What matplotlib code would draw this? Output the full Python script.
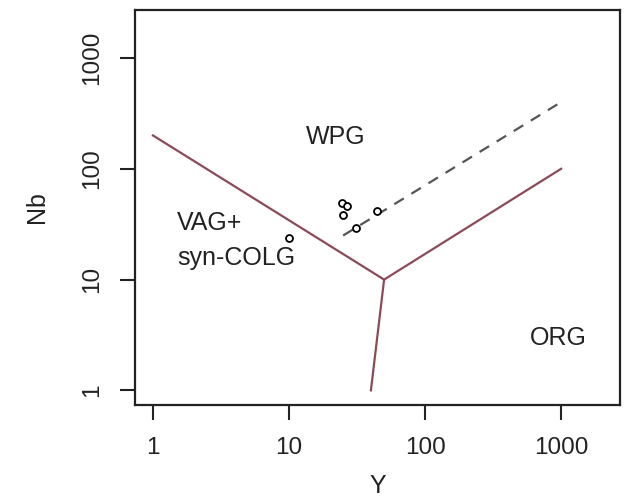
import matplotlib.pyplot as plt

plt.rcParams['font.family'] = ['Liberation Sans', 'DejaVu Sans']

# sample data
y_vals = [24.7, 26.9, 25.1, 31.3, 44.0, 10.0]
nb_vals = [49.4, 46.4, 38.5, 29.4, 41.8, 23.9]

# field boundaries (Pearce et al. 1984)
wpg_vag_y = [1, 50]
wpg_vag_nb = [200, 10]
org_y = [50, 1000]
org_nb = [10, 100]
vag_org_y = [50, 40]
vag_org_nb = [10, 1]
dash_y = [25, 1000]
dash_nb = [25, 400]

ticks = [1, 10, 100, 1000]
tick_labels = ["1", "10", "100", "1000"]

fig = plt.figure(figsize=(6.38, 5.01), dpi=100)
ax = fig.add_axes([0.2116, 0.1916, 0.7602, 0.7884])

line_col = "#8c4a58"
ax.plot(wpg_vag_y, wpg_vag_nb, color=line_col, lw=1.6)
ax.plot(org_y, org_nb, color=line_col, lw=1.6)
ax.plot(vag_org_y, vag_org_nb, color=line_col, lw=1.6)
ax.plot(dash_y, dash_nb, color="#555555", lw=1.6, ls=(0, (5, 4)))

ax.plot(y_vals, nb_vals, ls="none", marker="o", ms=5, mfc="white",
        mec="black", mew=1.3)

txt = dict(fontsize=18, color="#222222")
ax.text(21.9, 194, "WPG", ha="center", va="center", **txt)
ax.text(1.5, 28.2, "VAG+", ha="left", va="baseline", **txt)
ax.text(1.5, 13.65, "syn-COLG", ha="left", va="baseline", **txt)
ax.text(949, 2.94, "ORG", ha="center", va="center", **txt)

ax.set_xscale("log")
ax.set_yscale("log")
ax.set_xlim(10 ** -0.132, 10 ** 3.433)
ax.set_ylim(10 ** -0.132, 10 ** 3.433)
ax.set_xticks(ticks)
ax.set_xticklabels(tick_labels)
ax.set_yticks(ticks)
ax.set_yticklabels(tick_labels, rotation=90, va="center")
ax.minorticks_off()
ax.tick_params(length=11, width=1.5, labelsize=17.5, pad=12, colors="#222222")
for s in ax.spines.values():
    s.set_linewidth(1.6)
    s.set_color("#222222")

ax.set_xlabel("Y", fontsize=18, labelpad=11, color="#222222")
ax.set_ylabel("Nb", fontsize=18, labelpad=23, color="#222222")

fig.savefig("out.png", dpi=100)
